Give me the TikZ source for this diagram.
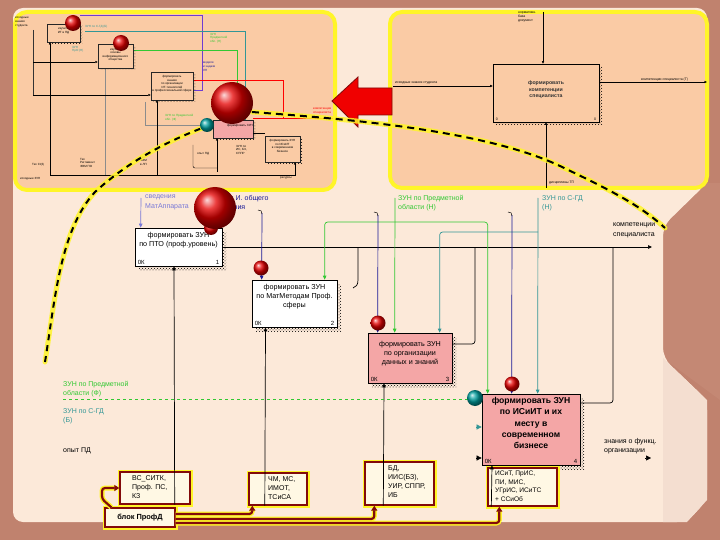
\documentclass[tikz,border=0pt]{standalone}
\usepackage{fontspec}
\setmainfont{Liberation Sans}
\usetikzlibrary{arrows.meta,patterns}
\definecolor{frm}{RGB}{192,130,110}
\definecolor{frmlight}{RGB}{196,136,116}
\definecolor{pnl}{RGB}{252,233,217}
\definecolor{pnlside}{RGB}{244,222,208}
\definecolor{upnl}{RGB}{250,203,165}
\definecolor{pinkbox}{RGB}{244,166,166}
\definecolor{dred}{RGB}{130,10,10}
\definecolor{cgreen}{RGB}{50,200,50}
\definecolor{cteal}{RGB}{50,150,150}
\definecolor{cblue}{RGB}{25,25,150}
\definecolor{clav}{RGB}{120,120,215}
\definecolor{cpurple}{RGB}{110,60,210}
\definecolor{glow}{RGB}{255,245,40}
\definecolor{boxcream}{RGB}{255,248,228}
\definecolor{arrred}{RGB}{240,0,0}
\begin{document}
\begin{tikzpicture}[x=1pt,y=-1pt,
  idef/.style={draw=black, line width=0.7pt, inner sep=0pt},
  hatch/.style={pattern=crosshatch dots, pattern color=black},
  btxt/.style={font=\fontsize{7.2}{9}\selectfont, align=center, inner sep=0pt},
  bbold/.style={font=\fontsize{8.6}{11.2}\selectfont\bfseries, align=center, inner sep=0pt},
  corner/.style={font=\fontsize{6}{6.5}\selectfont, inner sep=0pt},
  lbl/.style={font=\fontsize{7}{9.2}\selectfont, align=left, inner sep=0pt, anchor=north west},
  res/.style={draw=dred, line width=1.4pt, fill=boxcream, preaction={draw=glow, line width=5pt}, inner sep=0pt},
  rtxt/.style={font=\fontsize{7}{9}\selectfont, align=left, inner sep=0pt, anchor=north west},
  flow/.style={draw=dred, line width=2.2pt, rounded corners=3pt, preaction={draw=glow, line width=5pt}, -{Triangle[length=5pt,width=6pt]}},
  ctl/.style={line width=0.7pt, -{Triangle[length=4pt,width=3.5pt]}},
  mctl/.style={line width=0.45pt, -{Triangle[length=2.5pt,width=2.2pt]}},
  redball/.style={shading=ball, ball color=red!90!black},
  tealball/.style={shading=ball, ball color=teal!75!cyan},
  mbox/.style={draw=black!85, line width=0.45pt, inner sep=0pt},
  mtxt/.style={font=\fontsize{3}{3.6}\selectfont, align=center, inner sep=0pt},
  mlbl/.style={font=\fontsize{3}{3.6}\selectfont, align=left, inner sep=0pt, anchor=north west},
  panelbox/.style={draw=glow, line width=4pt, rounded corners=12pt, fill=upnl},
]
\useasboundingbox (0,0) rectangle (720,540);
% ---------- frame and panel ----------
\fill[frm] (0,0) rectangle (720,540);
\fill[frmlight] (663,183) -- (720,183) -- (720,400) -- (663,358) -- cycle;
\fill[pnl, rounded corners=10pt] (13,8) -- (707,8) -- (707,183) -- (663,226) -- (663,358) -- (707,400) -- (707,500) -- (687,522) -- (13,522) -- cycle;
\fill[pnlside] (663,358) -- (707,400) -- (707,500) -- (687,522) -- (663,522) -- cycle;

% ---------- upper left panel (decomposition) ----------
\draw[panelbox] (15,12) rectangle (335,190);
\draw[cpurple, line width=0.5pt] (80,15) -- (202,15) -- (202,90) -- (193,90);
\draw[cteal, line width=0.45pt] (85,31) -- (245,31) -- (245,120);
\draw[cgreen, line width=0.45pt] (133,50) -- (237,50) -- (237,120);
\draw[red, line width=0.6pt] (193,80) -- (283,80) -- (283,118);
\draw[red, line width=0.6pt] (253,118) -- (333,118);
\draw[black!55, line width=0.4pt] (33,95) -- (145,95);
\draw[black!45, line width=0.4pt] (145,102) -- (145,125) -- (210,125);
\draw[black!45, line width=0.4pt] (105,68) -- (105,175);
\draw[black!80, line width=0.45pt] (33,30) -- (33,95);
\fill[hatch] (49,26) rectangle (82,44);
\fill[hatch] (100,46) rectangle (135,70);
\fill[hatch] (153,74) rectangle (195,102);
\fill[hatch] (215,122) rectangle (255,140);
\fill[hatch] (267,138) rectangle (302,164);
\node[mbox, fill=upnl, minimum width=33pt, minimum height=18pt] (m1) at (63.5,33) {};
\node[mbox, fill=upnl, minimum width=35pt, minimum height=24pt] (m2) at (115.5,56) {};
\node[mbox, fill=upnl, minimum width=42pt, minimum height=28pt] (m3) at (172,86) {};
\node[mbox, fill=pinkbox, minimum width=40pt, minimum height=18pt] (m4) at (233,129) {};
\node[mbox, fill=upnl, minimum width=35pt, minimum height=26pt] (m5) at (282.5,149) {};
\node[mtxt] (m1t) at (63.5,31) {изучить\\ИТ в ПД};
\node[mtxt] (m2t) at (115.5,55) {изучить\\основы\\информационного\\общества};
\node[mtxt] (m3t) at (172,84) {формировать\\знания\\по организации\\ИТ-технологий\\в профессиональной сфере};
\node[mtxt] (m4t) at (240,126) {формировать ЗУН};
\node[mtxt] (m5t) at (282.5,146) {формировать ЗУН\\по ИСиИТ\\в современном\\бизнесе};
\draw[mctl] (33,62) -- (m2.west |- 0,62);
\draw[mctl] (33,95) -- (m3.west |- 0,95);
\draw[mctl] (50,175) -- (50,42);
\draw[mctl] (50,175) -- (295,175) -- (295,162);
\draw[mctl] (157,175) -- (157,100);
\draw[line width=0.45pt, rounded corners=2pt] (193,145) -- (193,168) -- (217,168);
\draw[mctl] (217,172) -- (217,138);
\draw[line width=0.45pt] (253,133) -- (265,133);
\shade[redball] (73,23) circle[radius=8pt];
\shade[redball] (121,43) circle[radius=8pt];
\node[mlbl] (ml1) at (15,17) {исходные\\знания\\студента};
\node[mlbl, text=cteal] (ml2) at (85,25) {ЗУН по С-ГД (Б)};
\node[mlbl, text=cteal] (ml3) at (72,46) {ЗУН\\ПрО (Н)};
\node[mlbl, text=cgreen] (ml4) at (210,33) {ЗУН\\Предметной\\обл. (Н)};
\node[mlbl, text=cblue] (ml5) at (203,62) {модели\\и задачи\\ЛП};
\node[mlbl, text=red] (ml6) at (313,108) {компетенции\\специалиста};
\node[mlbl, text=cgreen] (ml7) at (165,114) {ЗУН по Предметной\\обл. (Ф)};
\node[mlbl] (ml8) at (32,163) {Тех СУД};
\node[mlbl] (ml9) at (80,158) {Тех\\Регламент\\ЭВМ ПО};
\node[mlbl] (ml10) at (140,156) {Тех\\ЭВМ\\в ЛП};
\node[mlbl] (ml11) at (20,177) {исходные ЗУН};
\node[mlbl] (ml12) at (280,177) {ресурсы};
\node[mlbl] (ml13) at (197,152) {опыт ПД};
\node[mlbl] (ml14) at (236,145) {ЗУН по\\ИС, БЗ,\\СППР};

% ---------- upper right panel (context) ----------
\draw[panelbox] (390,12) rectangle (707,188);
\fill[hatch] (496,67) rectangle (602,125);
\node[idef, fill=upnl, minimum width=106pt, minimum height=58pt] (RB) at (546,93) {};
\node[font=\fontsize{5.2}{6.4}\selectfont\bfseries, align=center, inner sep=0pt, text=black!80] (RBt) at (546,90) {формировать\\компетенции\\специалиста};
\node[corner, font=\fontsize{3.5}{4}\selectfont, anchor=south west] (RBk) at ([shift={(3,-2)}]RB.south west) {0};
\node[corner, font=\fontsize{3.5}{4}\selectfont, anchor=south east] (RBn) at ([shift={(-3,-2)}]RB.south east) {0};
\draw[mctl] (543,12) -- ([xshift=-3pt]RB.north);
\draw[mctl] (393,86) -- ([yshift=7pt]RB.west);
\draw[mctl] ([yshift=11pt]RB.east) -- (707,82);
\draw[mctl] (546,188) -- (RB.south);
\node[mlbl, font=\fontsize{3.4}{4}\selectfont] (rl1) at (518,11) {нормативн.\\база\\документ};
\node[font=\fontsize{3.4}{4}\selectfont, anchor=south west, inner sep=0pt] (rl2) at (395,84.5) {исходные знания студента};
\node[font=\fontsize{3.4}{4}\selectfont, anchor=south west, inner sep=0pt] (rl3) at (641,81) {компетенции специалиста (Т)};
\node[font=\fontsize{3.4}{4}\selectfont, anchor=west, inner sep=0pt] (rl4) at (549,183) {дисциплины ТП};

% ---------- big red arrow ----------
\draw[dred, line width=0.8pt, fill=arrred] (332,101) -- (358,77) -- (358,88) -- (392,88) -- (392,115) -- (358,115) -- (358,127) -- cycle;

% ---------- lower IDEF0 diagram ----------
\fill[hatch] (139,232) rectangle (226,270);
\fill[hatch] (256,284) rectangle (341,331);
\fill[hatch] (372,337) rectangle (456,387);
\fill[hatch] (486,398) rectangle (584,469);
% box A
\node[idef, fill=white, minimum width=87pt, minimum height=38pt] (A) at (178.5,247) {};
\node[btxt] (At) at (178.5,240.5) {формировать ЗУН\\по ПТО (проф.уровень)};
\node[corner, anchor=south west] (Ak) at ([shift={(3,-2)}]A.south west) {0К};
\node[corner, anchor=south east] (An) at ([shift={(-3,-2)}]A.south east) {1};
% box B
\node[idef, fill=white, minimum width=85pt, minimum height=47pt] (B) at (294.5,303.5) {};
\node[btxt] (Bt) at (294.5,297) {формировать ЗУН\\по МатМетодам Проф.\\сферы};
\node[corner, anchor=south west] (Bk) at ([shift={(3,-2)}]B.south west) {0К};
\node[corner, anchor=south east] (Bn) at ([shift={(-3,-2)}]B.south east) {2};
% box C
\node[idef, fill=pinkbox, minimum width=84pt, minimum height=50pt] (C) at (410,358) {};
\node[btxt] (Ct) at (410,354) {формировать ЗУН\\по организации\\данных и знаний};
\node[corner, anchor=south west] (Ck) at ([shift={(3,-2)}]C.south west) {0К};
\node[corner, anchor=south east] (Cn) at ([shift={(-3,-2)}]C.south east) {3};
% box D
\node[idef, fill=pinkbox, minimum width=98pt, minimum height=71pt] (D) at (531,429.5) {};
\node[bbold] (Dt) at (531,423) {формировать ЗУН\\по ИСиИТ и их\\месту в\\современном\\бизнесе};
\node[corner, anchor=south west] (Dk) at ([shift={(3,-2)}]D.south west) {0К};
\node[corner, anchor=south east] (Dn) at ([shift={(-3,-2)}]D.south east) {4};

% resource boxes
\node[res, minimum width=70pt, minimum height=32pt] (E) at (155,488) {};
\node[rtxt] (Et) at (132,475) {ВС\_СИТК,\\Проф. ПС,\\КЗ};
\node[res, minimum width=58pt, minimum height=32pt] (F) at (278,489) {};
\node[rtxt] (Ft) at (268,476) {ЧМ, МС,\\ИМОТ,\\ТСиСА};
\node[res, minimum width=69pt, minimum height=43pt] (G) at (399.5,483.5) {};
\node[rtxt] (Gt) at (388,465) {БД,\\ИИС(БЗ),\\УИР, СППР,\\ИБ};
\node[res, minimum width=69pt, minimum height=38pt] (H) at (522.5,487) {};
\node[rtxt, font=\fontsize{6.6}{8.4}\selectfont] (Ht) at (495,471) {ИСиТ, ПрИС,\\ПИ, МИС,\\УГрИС, ИСиТС\\+ ССиОб};
\node[res, minimum width=70pt, minimum height=19pt] (I) at (140,517.5) {};
\node[font=\fontsize{7.4}{8}\selectfont\bfseries, inner sep=0pt] (It) at (140,518) {блок ПрофД};

% flows from block
\draw[flow] ([xshift=7pt]I.north west) -- (102,499) -- (102,488) -- (E.west);
\draw[flow] ([yshift=3.5pt]I.east) -| ([xshift=4pt]F.south west);
\draw[flow] ([yshift=-1.5pt]I.east) -| ([xshift=10pt]G.south west);
\draw[flow] ([yshift=-5.5pt]I.east) -| ([xshift=12pt]H.south west);

% mechanisms
\draw[ctl] ([xshift=-16pt]E.south east) -- ([xshift=-4.5pt]A.south);
\draw[ctl] ([xshift=16.5pt]F.south west) -- ([xshift=-29pt]B.south);
\draw[ctl] ([xshift=19pt]G.south west) -- ([xshift=-26pt]C.south);
\draw[ctl] ([xshift=4pt]H.south west) -- ([xshift=-39pt]D.south);

% outputs
\coordinate (outC) at (652,247);
\draw[ctl] (A.east) -- (outC);
\node[lbl] (outL) at (613,223) {компетенции\\специалиста};
\draw[line width=0.7pt, rounded corners=3pt] ([yshift=14pt]C.east) -| (475,247);
\draw[line width=0.7pt, rounded corners=3pt] ([yshift=26.5pt]D.east) -| (613,247);
\draw[line width=0.7pt] (358,247) -- (358,280) .. controls (358,285) and (356,287) .. (353,288);
\node[lbl] (fL) at (604,438) {знания о функц.\\организации};
\draw[-{Triangle[length=5pt,width=5pt]}, line width=0.5pt] (645,458) -- (651,458);

% controls
\draw[ctl, clav] (141,198) -- ([xshift=6pt]A.north west);
\node[lbl, text=clav] (cl1) at (145,195) {сведения\\МатАппарата};
\node[lbl, text=cblue] (cl2) at (210,195) {Знания И. общего\\мышления};
\draw[ctl, cblue] (262,213) -- ([xshift=10pt]B.north west);
\draw[line width=0.5pt] (258,210) .. controls (261,210) and (262,211) .. (262,214);
\node[lbl, text=cgreen] (cl3) at (398,195) {ЗУН по Предметной\\области (Н)};
\draw[ctl, cgreen] (395,198) -- ([xshift=27pt]C.north west);
\draw[ctl, cgreen, rounded corners=3pt] (395,222) -| ([xshift=73pt]B.north west);
\draw[ctl, cgreen, rounded corners=3pt] (395,222) -| ([xshift=6pt]D.north west);
\node[lbl, text=cteal] (cl4) at (542,195) {ЗУН по С-ГД\\(Н)};
\draw[ctl, cteal] (538,198) -- ([xshift=56pt]D.north west);
\draw[ctl, cteal, rounded corners=3pt] (538,232) -| ([xshift=72pt]C.north west);
\draw[ctl, cblue] (378,215) -- ([xshift=10pt]C.north west);
\draw[ctl, cblue] (512,215) -- ([xshift=30pt]D.north west);
\draw[line width=0.5pt] (374,212) .. controls (377,212) and (378,213) .. (378,216);
\draw[line width=0.5pt] (508,212) .. controls (511,212) and (512,213) .. (512,216);

% inputs
\node[lbl, text=cgreen] (il1) at (63,381) {ЗУН по Предметной\\области (Ф)};
\draw[cgreen, dashed, line width=0.6pt] (63,399) -- ([yshift=30.5pt]D.west);
\node[lbl, text=cteal] (il2) at (63,408) {ЗУН по С-ГД\\(Б)};
\draw[cteal, -{Triangle[length=5pt,width=5pt]}, line width=0.5pt] (476,427) -- ([yshift=2.5pt]D.west);
\node[lbl] (il3) at (63,447) {опыт ПД};
\draw[-{Triangle[length=5pt,width=5pt]}, line width=0.5pt] (476,458) -- ([yshift=-28.5pt]D.west);

% balls
\shade[redball] (211,228) circle[radius=7pt];
\shade[redball] (215,208) circle[radius=21pt];
\shade[redball] (261,268) circle[radius=7.5pt];
\shade[redball] (378,323) circle[radius=7.5pt];
\shade[redball] (512,384) circle[radius=7.5pt];
\shade[tealball] (475,398) circle[radius=8pt];

% ---------- callout dashed curves ----------
\draw[glow, line width=5pt, opacity=0.85, line cap=round] (45,362) .. controls (55,300) and (60,230) .. (95,192) .. controls (130,160) and (170,140) .. (205,127);
\draw[black, line width=2pt, dash pattern=on 6pt off 5pt] (45,362) .. controls (55,300) and (60,230) .. (95,192) .. controls (130,160) and (170,140) .. (205,127);
\draw[glow, line width=5pt, opacity=0.85, line cap=round] (252,112) .. controls (330,118) and (480,128) .. (560,166) .. controls (610,190) and (640,205) .. (665,228);
\draw[black, line width=2pt, dash pattern=on 7pt off 5pt] (252,112) .. controls (330,118) and (480,128) .. (560,166) .. controls (610,190) and (640,205) .. (665,228);

% magnified box balls (on top)
\shade[redball] (232,103) circle[radius=21pt];
\shade[tealball] (207,125) circle[radius=7pt];
\end{tikzpicture}
\end{document}
